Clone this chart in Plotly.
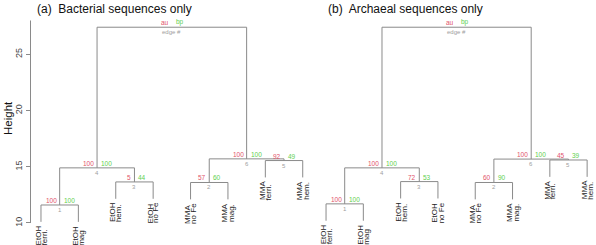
import plotly.graph_objects as go

W, H = 596, 245

# ---------------- data ----------------
leaf_line1 = ["EtOH", "EtOH", "EtOH", "EtOH", "MMA", "MMA", "MMA", "MMA"]
leaf_line2_a = ["ferri.", "mag", "hem.", "no Fe", "no Fe", "mag.", "ferri.", "hem."]
leaf_line2_b = ["ferri.", "mag", "hem.", "no Fe", "no Fe", "mag.", "ferri.", "hem."]

# hclust-style merges: negative = leaf position (1-based), positive = earlier merge (edge #)
merges = [(-1, -2), (-5, -6), (-3, -4), (1, 3), (-7, -8), (2, 5), (4, 6)]

height_a = [11.6, 13.6, 13.65, 14.9, 15.55, 15.7, 27.4]
au_a = [100, 57, 5, 100, 92, 100]
bp_a = [100, 60, 44, 100, 49, 100]

height_b = [11.7, 13.6, 13.68, 14.9, 15.6, 15.68, 27.4]
au_b = [100, 60, 72, 100, 45, 100]
bp_b = [100, 90, 53, 100, 39, 100]

title_a = "(a)\u00a0 Bacterial sequences only"
title_b = "(b)\u00a0 Archaeal sequences only"
y_ticks = [10, 15, 20, 25]
hang = 1.5

# ---------------- style ----------------
FONT = "Liberation Sans, Arial, sans-serif"
LINE_COL = "#8a8a8a"
AU_COL = "#DF536B"
BP_COL = "#61D04F"
EDGE_COL = "#9E9E9E"
LABEL_COL = "#222222"

# plot-area layout (pixels)
xa_left, xa_right = 30.5, 313.2
xb_left = 315.6
unit_b = 37.3
y_range = [8.044, 29.82]

# approx Arial advance widths (em) for label length estimate
CW = {"E": .667, "t": .278, "O": .778, "H": .722, "M": .833, "A": .667,
      "f": .278, "e": .556, "r": .333, "i": .222, ".": .278, "m": .833,
      "a": .556, "g": .556, "h": .556, "n": .556, "o": .556, " ": .278, "F": .611}


def text_len(s, size):
    return sum(CW.get(c, .556) for c in s) * size


def dendro(merge_list, heights):
    node_x = {}
    xs, ys = [], []
    leaf_bottom = {}
    for k, (a, b) in enumerate(merge_list, start=1):
        h = heights[k - 1]

        def child(c):
            if c < 0:
                leaf_bottom[-c] = h - hang
                return float(-c), h - hang
            return node_x[c], heights[c - 1]

        x1, y1 = child(a)
        x2, y2 = child(b)
        xs += [x1, x1, x2, x2, None]
        ys += [y1, h, h, y2, None]
        node_x[k] = (x1 + x2) / 2
    return xs, ys, node_x, leaf_bottom


fig = go.Figure()
annotations = []

panels = [
    ("x", "y", height_a, au_a, bp_a, leaf_line2_a, title_a, 114 / W),
    ("x2", "y2", height_b, au_b, bp_b, leaf_line2_b, title_b, 405.5 / W),
]

for xref, yref, heights, au, bp, line2, title, tx in panels:
    xs, ys, node_x, leaf_bottom = dendro(merges, heights)
    fig.add_trace(go.Scatter(x=xs, y=ys, xaxis=xref, yaxis=yref, mode="lines",
                             line=dict(color=LINE_COL, width=1), hoverinfo="skip",
                             showlegend=False))
    # node labels
    n = len(merges)
    for k in range(1, n + 1):
        cx, h = node_x[k], heights[k - 1]
        if k < n:
            t_au, t_bp, t_ed = str(au[k - 1]), str(bp[k - 1]), str(k)
        else:
            t_au, t_bp, t_ed = "au", "bp", "edge #"
        annotations.append(dict(x=cx, y=h, xref=xref, yref=yref, text=t_au, showarrow=False,
                                xanchor="right", yanchor="bottom", xshift=-1, yshift=-1,
                                font=dict(family=FONT, size=6.5, color=AU_COL)))
        annotations.append(dict(x=cx, y=h, xref=xref, yref=yref, text=t_bp, showarrow=False,
                                xanchor="left", yanchor="bottom", xshift=2, yshift=-1,
                                font=dict(family=FONT, size=6.5, color=BP_COL)))
        annotations.append(dict(x=cx, y=h, xref=xref, yref=yref, text=t_ed, showarrow=False,
                                xanchor="center", yanchor="top", yshift=0,
                                font=dict(family=FONT, size=6, color=EDGE_COL)))
    # leaf labels (rotated, two lines, start-aligned at bottom)
    fs = 8
    for i in range(len(leaf_line1)):
        pos = i + 1
        yb = leaf_bottom[pos]
        block = max(text_len(leaf_line1[i], fs), text_len(line2[i], fs))
        drop = 5 + block
        for txt, dx in ((leaf_line1[i], -3), (line2[i], 3)):
            annotations.append(dict(x=pos, y=yb, xref=xref, yref=yref, text=txt,
                                    showarrow=False, textangle=-90,
                                    xanchor="center", yanchor="bottom",
                                    xshift=dx, yshift=-drop, borderpad=0,
                                    font=dict(family=FONT, size=fs, color=LABEL_COL)))
    annotations.append(dict(x=tx, y=1 - 9 / H, xref="paper", yref="paper", text=title,
                            showarrow=False, xanchor="center", yanchor="middle",
                            font=dict(family=FONT, size=12, color="#111111")))

annotations.append(dict(x=8 / W, y=1 - 118 / H, xref="paper", yref="paper", text="Height",
                        showarrow=False, textangle=-90, xanchor="center", yanchor="middle",
                        font=dict(family=FONT, size=11.5, color="#111111")))

# y axis line (spans from lowest tick up to ~28 like the original)
shapes = [dict(type="line", xref="paper", yref="y", x0=xa_left / W, x1=xa_left / W,
               y0=y_ticks[0], y1=28.0, line=dict(color=LINE_COL, width=1))]

fig.update_layout(
    width=W, height=H, margin=dict(l=0, r=0, t=0, b=0),
    paper_bgcolor="white", plot_bgcolor="white",
    xaxis=dict(domain=[xa_left / W, xa_right / W], range=[0.72, 8.28], visible=False,
               anchor="y"),
    xaxis2=dict(domain=[xb_left / W, 1.0],
                range=[0.72, 0.72 + (W - xb_left) / unit_b], visible=False, anchor="y2"),
    yaxis=dict(domain=[0, 1], range=y_range, tickvals=y_ticks, ticktext=[str(v) for v in y_ticks],
               tickangle=-90, ticks="outside", ticklen=4, tickcolor=LINE_COL,
               showgrid=False, zeroline=False, showline=False, anchor="x",
               tickfont=dict(family=FONT, size=9, color="#444444")),
    yaxis2=dict(domain=[0, 1], range=y_range, visible=False, anchor="x2"),
    annotations=annotations, shapes=shapes, showlegend=False,
)

fig.write_html("out.html", config={"displayModeBar": False},
               post_script="document.body.style.margin='0';document.body.style.overflow='hidden';")
